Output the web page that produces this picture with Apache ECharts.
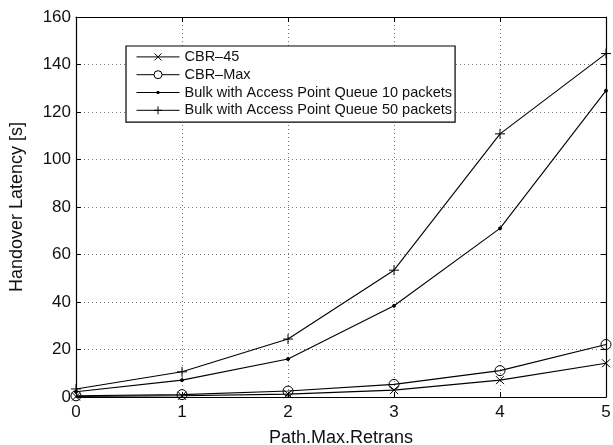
<!DOCTYPE html>
<html>
<head>
<meta charset="utf-8">
<script src="https://cdn.jsdelivr.net/npm/echarts@6/dist/echarts.min.js"></script>
<style>
  html, body { margin: 0; padding: 0; background: #fff; }
  #chart { width: 613px; height: 445px; }
</style>
</head>
<body>
<div id="chart"></div>
<script>
// Path.Max.Retrans values on the x axis
const retrans = [0, 1, 2, 3, 4, 5];

// Handover latency in seconds for each traffic type
const cbr45 = [0.2, 0.5, 1.2, 2.9, 7.1, 14.2];
const cbrMax = [0.5, 1.0, 2.5, 5.3, 11.1, 22.1];
const bulkQ10 = [2.2, 7.1, 16.0, 38.4, 71.0, 129.0];
const bulkQ50 = [3.4, 10.6, 24.4, 53.4, 110.8, 144.6];

const seriesNames = [
  'CBR\u201345',
  'CBR\u2013Max',
  'Bulk with Access Point Queue 10 packets',
  'Bulk with Access Point Queue 50 packets'
];

const FONT = '"Liberation Sans", Arial, Helvetica, sans-serif';

function pairs(ys) {
  return retrans.map((x, i) => [x, ys[i]]);
}

// plot markers
const crossPath = 'path://M0,0L10,10M10,0L0,10';
const plusPath = 'path://M5,0L5,10M0,5L10,5';

// legend samples: a 43x10 line with the marker in its middle
const CORNERS = 'M0,0L0,0M43,10L43,10';
const legendIcons = [
  'path://M0,5L43,5M18,1.5L25,8.5M25,1.5L18,8.5' + CORNERS,
  'path://M0,5L17.5,5M25.5,5L43,5M25.5,5A4,4,0,1,1,17.5,5A4,4,0,1,1,25.5,5' + CORNERS,
  'path://M0,5L43,5M20.5,4L22.5,4L22.5,6L20.5,6Z' + CORNERS,
  'path://M0,5L43,5M21.5,1L21.5,9M17.5,5L25.5,5' + CORNERS
];

function lineSeries(name, ys, symbol, size, fill) {
  return {
    name: name,
    type: 'line',
    data: pairs(ys),
    symbol: symbol,
    symbolSize: size,
    showAllSymbol: true,
    lineStyle: { color: '#000', width: 1.1 },
    itemStyle: { color: fill, borderColor: '#000', borderWidth: 1 },
    emphasis: { disabled: true },
    animation: false,
    z: 3
  };
}

const chart = echarts.init(document.getElementById('chart'), null, { renderer: 'canvas' });

const gridLine = { show: true, lineStyle: { color: '#777', type: [1, 3], width: 1 } };
const boxLine = { show: true, onZero: false, lineStyle: { color: '#000', width: 1.2 } };
const inTick = { show: true, inside: true, length: 5, lineStyle: { color: '#000', width: 1 } };

chart.setOption({
  backgroundColor: '#fff',
  animation: false,
  grid: {
    left: 76, right: 7, top: 17, bottom: 48,
    containLabel: false,
    outerBoundsMode: 'none'
  },
  xAxis: [
    {
      type: 'value', min: 0, max: 5, interval: 1,
      name: 'Path.Max.Retrans', nameLocation: 'middle', nameGap: 32,
      nameTextStyle: { fontFamily: FONT, fontSize: 18, color: '#111' },
      axisLine: boxLine, axisTick: inTick, splitLine: gridLine,
      axisLabel: { fontFamily: FONT, fontSize: 17, color: '#111', margin: 7 }
    },
    {
      type: 'value', min: 0, max: 5, interval: 1, position: 'top',
      axisLine: boxLine, axisTick: inTick, splitLine: { show: false },
      axisLabel: { show: false }
    }
  ],
  yAxis: [
    {
      type: 'value', min: 0, max: 160, interval: 20,
      name: 'Handover Latency [s]', nameLocation: 'middle', nameGap: 50,
      nameTextStyle: { fontFamily: FONT, fontSize: 18, color: '#111' },
      axisLine: boxLine, axisTick: inTick, splitLine: gridLine,
      axisLabel: { fontFamily: FONT, fontSize: 17, color: '#111', margin: 5 }
    },
    {
      type: 'value', min: 0, max: 160, interval: 20, position: 'right',
      axisLine: boxLine, axisTick: inTick, splitLine: { show: false },
      axisLabel: { show: false }
    }
  ],
  legend: {
    left: 126, top: 46,
    orient: 'vertical',
    backgroundColor: '#fff',
    borderColor: '#000', borderWidth: 1.2,
    padding: [2, 3, 3, 8],
    itemGap: 0,
    itemWidth: 43, itemHeight: 10,
    symbolKeepAspect: false,
    selectedMode: false,
    textStyle: { fontFamily: FONT, fontSize: 14.5, color: '#111', lineHeight: 17.8 },
    data: seriesNames.map((n, i) => ({
      name: n,
      icon: legendIcons[i],
      itemStyle: { color: i === 2 ? '#000' : 'none', borderColor: '#000', borderWidth: 1 }
    }))
  },
  series: [
    lineSeries(seriesNames[0], cbr45, crossPath, 8, 'none'),
    lineSeries(seriesNames[1], cbrMax, 'circle', 10, 'rgba(255,255,255,0)'),
    lineSeries(seriesNames[2], bulkQ10, 'circle', 3, '#000'),
    lineSeries(seriesNames[3], bulkQ50, plusPath, 10, 'none')
  ]
});
</script>
</body>
</html>
